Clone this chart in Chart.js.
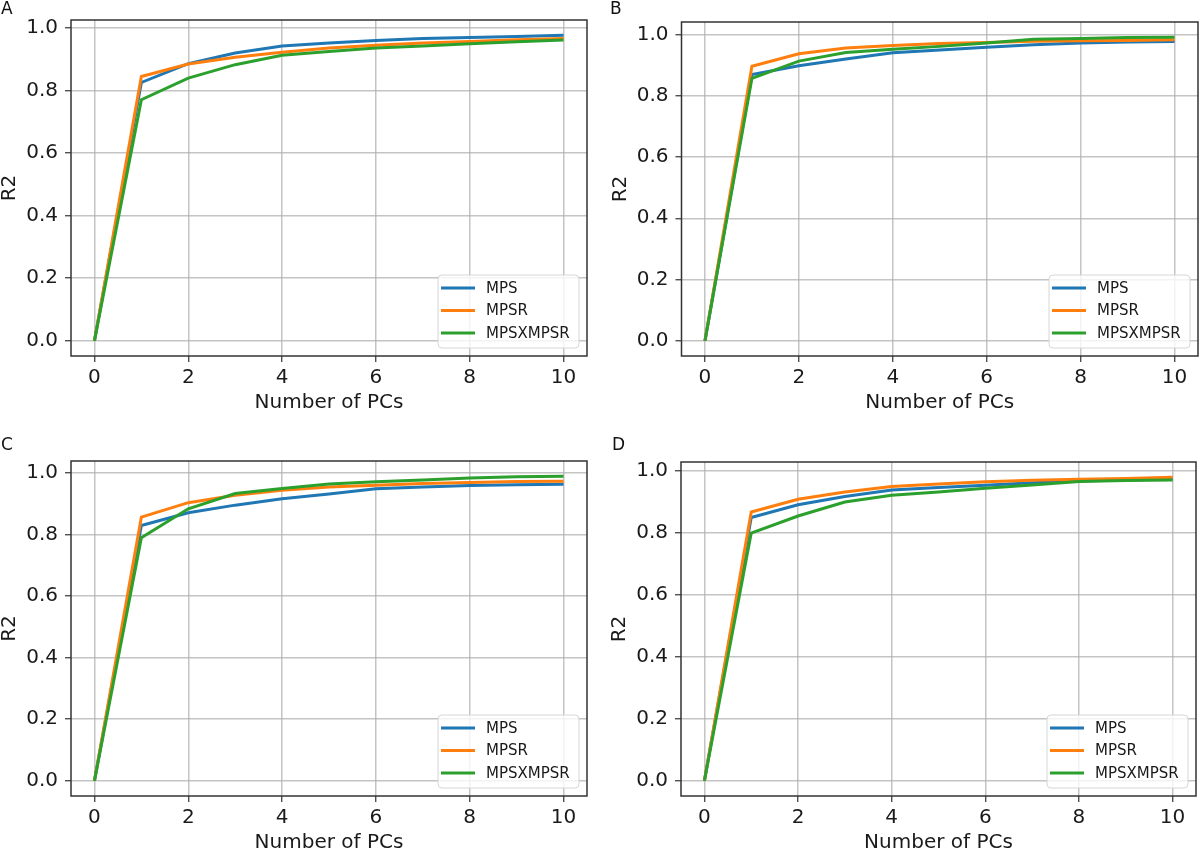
<!DOCTYPE html>
<html>
<head>
<meta charset="utf-8">
<script src="https://cdn.jsdelivr.net/npm/chart.js@4.4.1/dist/chart.umd.min.js"></script>
<style>
    html, body { margin: 0; padding: 0; background: #fff; width: 1200px; height: 852px; overflow: hidden; position: relative; }
    .panel { position: absolute; width: 600px; height: 440px; }
    .tag { position: absolute; font-family: 'DejaVu Sans'; font-size: 17px; line-height: 17px; color: #111; }
</style>
</head>
<body>
<div class="panel" style="left:0;top:0"><canvas id="chartA" width="600" height="440"></canvas></div>
<div class="panel" style="left:600px;top:0"><canvas id="chartB" width="600" height="440"></canvas></div>
<div class="panel" style="left:0;top:426px"><canvas id="chartC" width="600" height="440"></canvas></div>
<div class="panel" style="left:600px;top:426px"><canvas id="chartD" width="600" height="440"></canvas></div>
<div class="tag" style="left:1px;top:0px">A</div>
<div class="tag" style="left:610px;top:0px">B</div>
<div class="tag" style="left:1px;top:436px">C</div>
<div class="tag" style="left:612px;top:436px">D</div>

<script>
// number of PCs on the x axis
const pcs = [0, 1, 2, 3, 4, 5, 6, 7, 8, 9, 10];
const xTicks = [0, 2, 4, 6, 8, 10];
const yTicks = [0, 0.2, 0.4, 0.6, 0.8, 1.0];
const seriesNames = ['MPS', 'MPSR', 'MPSXMPSR'];

// panel A
const mpsA  = [0, 0.826, 0.886, 0.920, 0.943, 0.952, 0.960, 0.967, 0.970, 0.973, 0.977];
const mpsrA = [0, 0.845, 0.885, 0.907, 0.923, 0.936, 0.945, 0.952, 0.957, 0.963, 0.967];
const mpsxA = [0, 0.771, 0.840, 0.883, 0.913, 0.925, 0.936, 0.943, 0.950, 0.956, 0.962];

// panel B
const mpsB  = [0, 0.869, 0.898, 0.920, 0.940, 0.949, 0.958, 0.966, 0.972, 0.975, 0.977];
const mpsrB = [0, 0.896, 0.937, 0.956, 0.964, 0.970, 0.974, 0.978, 0.979, 0.980, 0.983];
const mpsxB = [0, 0.857, 0.913, 0.941, 0.952, 0.961, 0.972, 0.984, 0.987, 0.990, 0.991];

// panel C
const mpsC  = [0, 0.830, 0.871, 0.896, 0.917, 0.932, 0.949, 0.955, 0.960, 0.962, 0.964];
const mpsrC = [0, 0.857, 0.904, 0.928, 0.944, 0.955, 0.961, 0.966, 0.970, 0.973, 0.974];
const mpsxC = [0, 0.790, 0.884, 0.934, 0.950, 0.965, 0.972, 0.978, 0.984, 0.988, 0.990];

// panel D
const mpsD  = [0, 0.848, 0.889, 0.916, 0.937, 0.945, 0.952, 0.960, 0.966, 0.969, 0.972];
const mpsrD = [0, 0.866, 0.907, 0.930, 0.948, 0.956, 0.963, 0.968, 0.971, 0.974, 0.978];
const mpsxD = [0, 0.798, 0.853, 0.898, 0.920, 0.930, 0.942, 0.953, 0.964, 0.967, 0.969];

const colors = ['#1f77b4', '#ff7f0e', '#2ca02c'];
const textColor = '#1a1a1a';
const gridColor = 'rgba(176,176,176,0.75)';

Chart.defaults.font.family = 'DejaVu Sans';

// box around the plot area, like matplotlib spines
const framePlugin = {
    id: 'frame',
    afterDraw(chart) {
        const a = chart.chartArea;
        const ctx = chart.ctx;
        ctx.save();
        ctx.strokeStyle = '#333';
        ctx.lineWidth = 1.5;
        ctx.strokeRect(a.left, a.top, a.right - a.left, a.bottom - a.top);
        ctx.restore();
    }
};

// legend in the lower right corner of the plot area
const boxLegend = {
    id: 'boxLegend',
    afterDraw(chart) {
        const a = chart.chartArea;
        const ctx = chart.ctx;
        const w = 141, h = 73;
        const x = a.right - 8 - w;
        const y = a.bottom - 8 - h;
        ctx.save();
        ctx.beginPath();
        ctx.roundRect(x, y, w, h, 4);
        ctx.fillStyle = 'rgba(255,255,255,0.8)';
        ctx.fill();
        ctx.strokeStyle = '#d6d6d6';
        ctx.lineWidth = 1;
        ctx.stroke();
        ctx.font = '15px "DejaVu Sans"';
        ctx.textBaseline = 'middle';
        chart.data.datasets.forEach((ds, i) => {
            const ry = y + 13 + i * 22.5;
            ctx.strokeStyle = ds.borderColor;
            ctx.lineWidth = 3;
            ctx.beginPath();
            ctx.moveTo(x + 3, ry);
            ctx.lineTo(x + 37, ry);
            ctx.stroke();
            ctx.fillStyle = textColor;
            ctx.fillText(ds.label, x + 48, ry + 1);
        });
        ctx.restore();
    }
};

function makePanel(id, series, area) {
    const allVals = series.flat();
    const lo = Math.min(...allVals), hi = Math.max(...allVals);
    const pad = (hi - lo) * 0.05;

    const datasets = series.map((vals, i) => ({
        label: seriesNames[i],
        data: vals.map((v, k) => ({ x: pcs[k], y: v })),
        borderColor: colors[i],
        backgroundColor: colors[i],
        borderWidth: 3,
        pointRadius: 0,
        tension: 0,
        fill: false,
        order: 3 - i
    }));

    new Chart(document.getElementById(id), {
        type: 'line',
        data: { datasets: datasets },
        options: {
            responsive: false,
            animation: false,
            layout: {
                padding: { left: area.l - 71, top: area.t, right: 600 - area.r, bottom: 440 - area.b - 60 }
            },
            plugins: {
                legend: { display: false },
                tooltip: { enabled: false }
            },
            scales: {
                x: {
                    type: 'linear',
                    bounds: 'data',
                    min: -0.5,
                    max: 10.5,
                    afterBuildTicks: s => { s.ticks = xTicks.map(v => ({ value: v })); },
                    afterFit: s => { s.height = 60; },
                    border: { display: false },
                    grid: { color: gridColor, lineWidth: 1.5, tickColor: '#333', tickWidth: 1.2, tickLength: 6 },
                    ticks: { font: { size: 20 }, color: textColor, padding: 4, maxRotation: 0 },
                    title: { display: true, text: 'Number of PCs', color: textColor, font: { size: 20, lineHeight: 1 }, padding: { top: 0, bottom: 3 } }
                },
                y: {
                    type: 'linear',
                    bounds: 'data',
                    min: lo - pad,
                    max: hi + pad,
                    afterBuildTicks: s => { s.ticks = yTicks.map(v => ({ value: v })); },
                    afterFit: s => { s.width = 71; },
                    border: { display: false },
                    grid: { color: gridColor, lineWidth: 1.5, tickColor: '#333', tickWidth: 1.2, tickLength: 6 },
                    ticks: { font: { size: 20 }, color: textColor, padding: 7, callback: v => v.toFixed(1) },
                    title: { display: true, text: 'R2', color: textColor, font: { size: 20, lineHeight: 1 }, padding: { top: 0, bottom: 0 } }
                }
            }
        },
        plugins: [framePlugin, boxLegend]
    });
}

window.onload = function () {
    makePanel('chartA', [mpsA, mpsrA, mpsxA], { l: 71, t: 20, r: 587, b: 356 });
    makePanel('chartB', [mpsB, mpsrB, mpsxB], { l: 81.5, t: 22, r: 598, b: 356 });
    makePanel('chartC', [mpsC, mpsrC, mpsxC], { l: 71, t: 35, r: 587, b: 370 });
    makePanel('chartD', [mpsD, mpsrD, mpsxD], { l: 81, t: 36, r: 596, b: 370 });
};
</script>
</body>
</html>
